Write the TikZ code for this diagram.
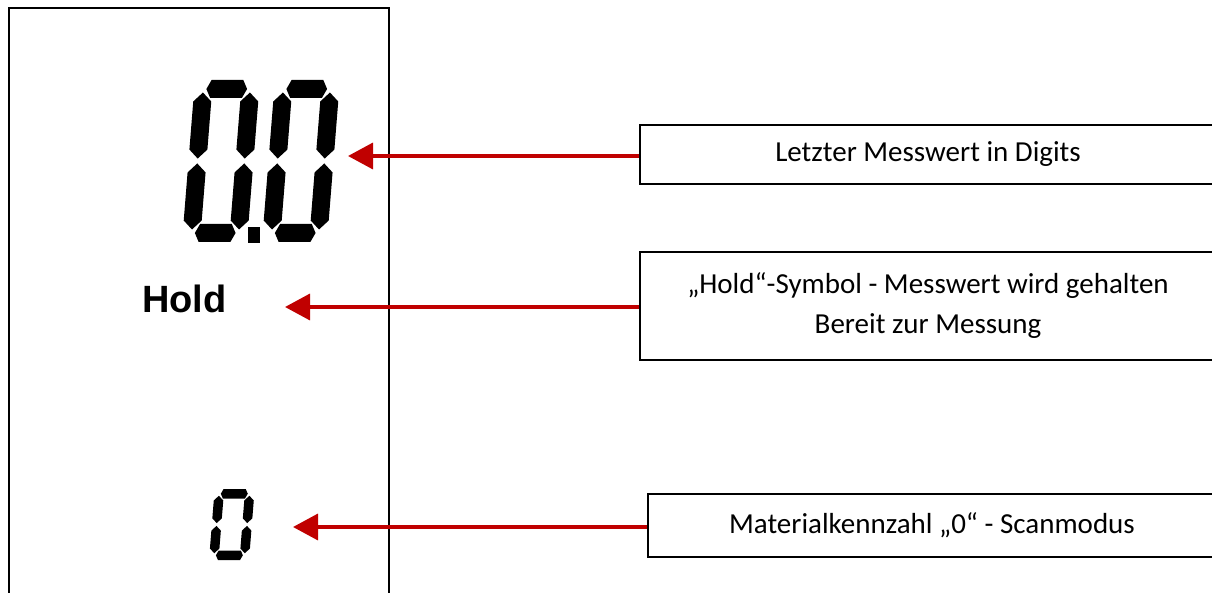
\documentclass[tikz,border=0pt]{standalone}
\usepackage{fontspec}
\setmainfont{Carlito}
\newfontfamily\holdfont{Liberation Sans}
\usetikzlibrary{arrows.meta}
\definecolor{arrred}{HTML}{C00000}

% horizontal segment: centre v, tip u-positions p and q (bevel depth \Le)
\newcommand\lcdh[3]{\fill ({#2},{#1}) -- ({#2+\Le},{#1+\La}) -- ({#3-\Le},{#1+\La}) -- ({#3},{#1}) -- ({#3-\Le},{#1-\La}) -- ({#2+\Le},{#1-\La}) -- cycle;}
% vertical segment: centre u, tip v-positions p and q
\newcommand\lcdv[3]{\fill ({#1},{#2}) -- ({#1+\La},{#2+\La}) -- ({#1+\La},{#3-\La}) -- ({#1},{#3}) -- ({#1-\La},{#3-\La}) -- ({#1-\La},{#2+\La}) -- cycle;}
% x0, y0 (bottom-left), width, height, thickness, gap, slant
\newcommand\lcdzero[7]{%
  \begin{scope}[shift={(#1,#2)},x=1pt,y=1pt,xslant=#7]
    \pgfmathsetmacro\LW{#3}\pgfmathsetmacro\LH{#4}%
    \pgfmathsetmacro\La{#5/2}\pgfmathsetmacro\LG{#6}%
    \pgfmathsetmacro\Le{#5/4}%
    \lcdh{\LH-\La}{\La+\LG*0.9}{\LW-\La-\LG*0.9}
    \lcdh{\La}{\La+\LG*0.9}{\LW-\La-\LG*0.9}
    \lcdv{\La}{\LH/2+\LG*0.7}{\LH-\La-\LG}
    \lcdv{\La}{\La+\LG}{\LH/2-\LG*0.7}
    \lcdv{\LW-\La}{\LH/2+\LG*0.7}{\LH-\La-\LG}
    \lcdv{\LW-\La}{\La+\LG}{\LH/2-\LG*0.7}
  \end{scope}}

\tikzset{
  lbl/.style={draw, line width=1.6pt, align=center, inner sep=0pt,
    font=\fontsize{29}{40}\selectfont},
  arr/.style={draw=arrred, line width=3.5pt, -{Triangle[length=25pt,width=26pt]}}
}

\begin{document}
\begin{tikzpicture}[x=1pt,y=-1pt]
\useasboundingbox (0,0) rectangle (1212,593);
\clip (0,0) rectangle (1212,593);

% display frame
\node[draw, line width=2pt, minimum width=380pt, minimum height=640pt,
      anchor=north west, inner sep=0pt] (disp) at (8,7) {};

% LCD digits
\lcdzero{182}{242}{65}{162}{18}{3.5}{0.08}
\lcdzero{262}{242}{65}{162}{18}{3.5}{0.08}
\fill (248,227) rectangle (260,243);
\lcdzero{209}{560}{40}{71}{9.5}{2}{0.08}

\node[font=\holdfont\bfseries\fontsize{38}{44}\selectfont, anchor=base west, inner sep=0pt]
  (hold) at (142,313) {Hold};

% label boxes
\node[lbl, minimum width=576pt, minimum height=59pt] (b1) at (928,154.5)
  {Letzter Messwert in Digits};
\node[lbl, minimum width=576pt, minimum height=108pt] (b2) at (928,306)
  {„Hold“-Symbol - Messwert wird gehalten\\Bereit zur Messung};
\node[lbl, minimum width=568pt, minimum height=63pt] (b3) at (932,525.5)
  {Materialkennzahl „0“ - Scanmodus};

% arrow tips
\coordinate (t1) at (348,156);
\coordinate (t2) at (285,307);
\coordinate (t3) at (293,527);

\draw[arr] (b1.west |- t1) -- (t1);
\draw[arr] (b2.west |- t2) -- (t2);
\draw[arr] (b3.west |- t3) -- (t3);
\end{tikzpicture}
\end{document}
